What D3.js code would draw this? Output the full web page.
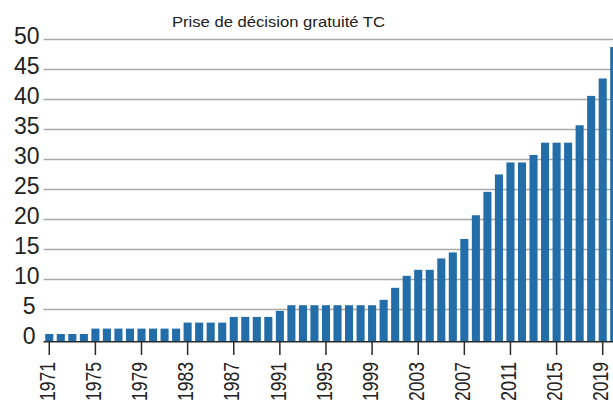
<!DOCTYPE html>
<html>
<head>
<meta charset="utf-8">
<script src="https://cdn.jsdelivr.net/npm/d3@7"></script>
<style>
  html, body { margin: 0; padding: 0; background: #fff; overflow: hidden; }
  svg { display: block; }
</style>
</head>
<body>
<svg id="chart" width="613" height="403"></svg>
<script>
const title = "Prise de décision gratuité TC";
const years = d3.range(1971, 2021);
const values = [
  0.9, 0.9, 0.9, 0.9,
  1.8, 1.8, 1.8, 1.8, 1.8, 1.8, 1.8, 1.8,
  2.8, 2.8, 2.8, 2.8,
  3.75, 3.75, 3.75, 3.75,
  4.75,
  5.7, 5.7, 5.7, 5.7, 5.7, 5.7, 5.7, 5.7,
  6.6, 8.6, 10.6, 11.6, 11.6, 13.5, 14.5, 16.75, 20.7,
  24.6, 27.5, 29.5, 29.5, 30.75, 32.8, 32.8, 32.8, 35.7, 40.6, 43.5, 48.75
];
const yTicks = [0, 5, 10, 15, 20, 25, 30, 35, 40, 45, 50];
const xTickYears = years.filter(y => (y - 1971) % 4 === 0);

(function () {
const svg = d3.select("#chart");
const W = 613;
const mLeft = 43.5, mBottom = 341.5, mTop = 39.5;
const step = 11.53;

const x = d3.scaleBand()
  .domain(years)
  .range([mLeft, mLeft + step * years.length])
  .paddingInner(0.3)
  .paddingOuter(0.15);

const y = d3.scaleLinear()
  .domain([-0.35, 50])
  .range([mBottom, mTop]);

const font = "'Liberation Sans', Arial, Helvetica, sans-serif";

svg.append("g")
  .selectAll("line")
  .data(yTicks.filter(t => t > 0))
  .join("line")
  .attr("x1", mLeft).attr("x2", W)
  .attr("y1", d => y(d)).attr("y2", d => y(d))
  .attr("stroke", "#a9a9a9")
  .attr("stroke-width", 1.5);

svg.append("g")
  .selectAll("text")
  .data(yTicks)
  .join("text")
  .attr("x", d => d < 10 ? 35.5 : 39.5)
  .attr("y", d => y(d) + 4.2)
  .attr("text-anchor", "end")
  .attr("font-family", font)
  .attr("font-size", 23)
  .attr("fill", "#222")
  .text(d => d);

svg.append("g")
  .selectAll("rect")
  .data(years.map((yr, i) => ({ yr, v: values[i] })))
  .join("rect")
  .attr("x", d => x(d.yr))
  .attr("width", x.bandwidth())
  .attr("y", d => y(d.v))
  .attr("height", d => mBottom - y(d.v))
  .attr("fill", "#236da8");

svg.append("line")
  .attr("x1", mLeft).attr("x2", W)
  .attr("y1", mBottom + 0.2).attr("y2", mBottom + 0.2)
  .attr("stroke", "#2a2a2a")
  .attr("stroke-width", 1.5);

svg.append("g")
  .selectAll("line")
  .data(xTickYears)
  .join("line")
  .attr("x1", d => x(d) + x.bandwidth() / 2)
  .attr("x2", d => x(d) + x.bandwidth() / 2)
  .attr("y1", mBottom)
  .attr("y2", 355)
  .attr("stroke", "#2a2a2a")
  .attr("stroke-width", 1.5);

svg.append("g")
  .selectAll("text")
  .data(xTickYears)
  .join("text")
  .attr("transform", d => `translate(${x(d) + x.bandwidth() / 2},362) rotate(-90)`)
  .attr("dy", 5.7)
  .attr("text-anchor", "end")
  .attr("font-family", font)
  .attr("font-size", 22)
  .attr("textLength", 39)
  .attr("lengthAdjust", "spacingAndGlyphs")
  .attr("fill", "#222")
  .text(d => d);

svg.append("text")
  .attr("x", 172)
  .attr("y", 26.5)
  .attr("font-family", font)
  .attr("font-size", 15.5)
  .attr("textLength", 213)
  .attr("lengthAdjust", "spacingAndGlyphs")
  .attr("fill", "#222")
  .text(title);
})();
</script>
</body>
</html>
